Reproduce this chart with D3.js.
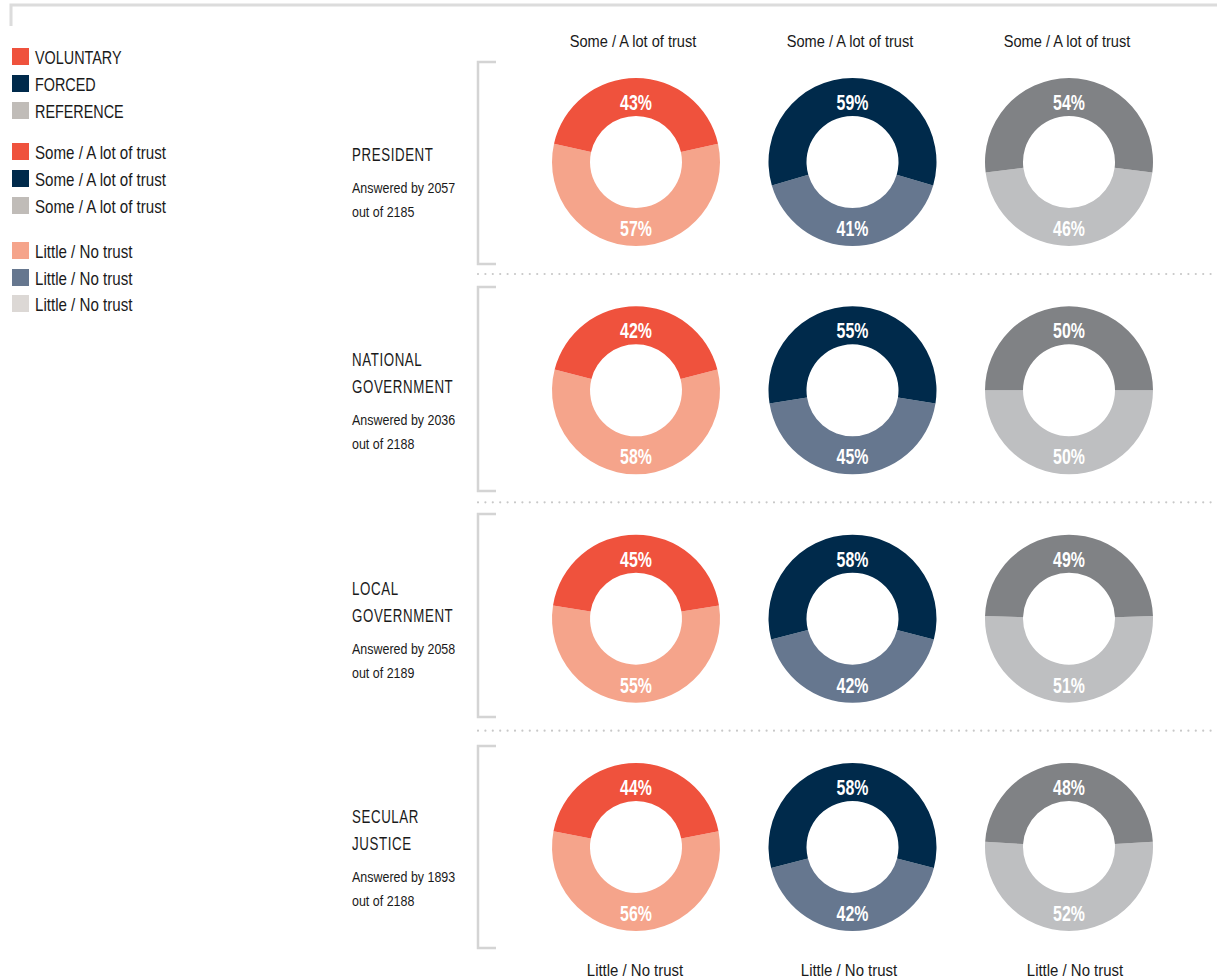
<!DOCTYPE html>
<html>
<head>
<meta charset="utf-8">
<script src="https://cdn.jsdelivr.net/npm/d3@7"></script>
<style>
  body { margin: 0; background: #fff; }
  text { font-family: "Liberation Sans", "Roboto", sans-serif; }
</style>
</head>
<body>
<div id="chart"></div>
<script>
// institutions (rows)
var institutions = [["PRESIDENT"], ["NATIONAL", "GOVERNMENT"], ["LOCAL", "GOVERNMENT"], ["SECULAR", "JUSTICE"]];
var answered = [2057, 2036, 2058, 1893];
var outOf = [2185, 2188, 2189, 2188];

// groups (columns)
var groups = ["VOLUNTARY", "FORCED", "REFERENCE"];

// % some / a lot of trust, per row, per group
var trustVoluntary = [43, 42, 45, 44];
var trustForced = [59, 55, 58, 58];
var trustReference = [54, 50, 49, 48];

// % little / no trust
var littleVoluntary = [57, 58, 55, 56];
var littleForced = [41, 45, 42, 42];
var littleReference = [46, 50, 51, 52];

var topLabel = "Some / A lot of trust";
var bottomLabel = "Little / No trust";

var trust = [trustVoluntary, trustForced, trustReference];
var little = [littleVoluntary, littleForced, littleReference];

var darkColor = d3.scaleOrdinal().domain(groups).range(["#ef523d", "#002a4b", "#808285"]);
var lightColor = d3.scaleOrdinal().domain(groups).range(["#f5a48b", "#66778f", "#bebfc1"]);
var legendDark = d3.scaleOrdinal().domain(groups).range(["#ef523d", "#002a4b", "#c0bcb8"]);
var legendLight = d3.scaleOrdinal().domain(groups).range(["#f5a48b", "#66778f", "#dcd8d5"]);

var width = 1217, height = 979;
var svg = d3.select("#chart").append("svg")
    .attr("width", width)
    .attr("height", height);

// condensed-looking text: squeeze horizontally around the anchor point
function addText(parent, x, y, str, size, sx, anchor) {
    return parent.append("g")
        .attr("transform", "translate(" + x + "," + y + ") scale(" + sx + ",1)")
        .append("text")
        .attr("text-anchor", anchor || "start")
        .attr("font-size", size)
        .attr("fill", "#1a1a1a")
        .text(str);
}

// top frame
svg.append("path")
    .attr("d", "M11,26V5H1217")
    .attr("fill", "none")
    .attr("stroke", "#dcdcdc")
    .attr("stroke-width", 3);

// legend
var legendItems = [];
groups.forEach(function(g){ legendItems.push({label: g, color: legendDark(g)}); });
groups.forEach(function(g){ legendItems.push({label: topLabel, color: legendDark(g)}); });
groups.forEach(function(g){ legendItems.push({label: bottomLabel, color: legendLight(g)}); });
var legendY = [57, 84, 111, 152, 179, 206, 251, 278, 304];

var legend = svg.append("g").attr("id", "legend");
legend.selectAll("rect")
    .data(legendItems)
    .enter()
    .append("rect")
    .attr("x", 12)
    .attr("y", function(d, i){ return legendY[i] - 9; })
    .attr("width", 17)
    .attr("height", 17)
    .attr("fill", function(d){ return d.color; });
legendItems.forEach(function(d, i){
    addText(legend, 35, legendY[i] + 7, d.label, 18, i < 3 ? 0.8 : 0.84);
});

// layout scales
var xScale = d3.scalePoint().domain(groups).range([636, 1069]);
var yScale = d3.scaleLinear().domain([0, 3]).range([162, 847]);
var angle = d3.scaleLinear().domain([0, 100]).range([0, 2 * Math.PI]);
var rOuter = 84, rInner = 46;
var arc = d3.arc().innerRadius(rInner).outerRadius(rOuter);

// column headers / footers
var colHead = [633, 850, 1067];
var colFoot = [635, 849, 1075];
groups.forEach(function(g, i){
    addText(svg, colHead[i], 47, topLabel, 17, 0.86, "middle");
    addText(svg, colFoot[i], 976, bottomLabel, 17, 0.88, "middle");
});

// bracket extents per row
var bracketTop = [62, 287, 514, 746];
var bracketBot = [264, 491, 717, 948];

// rows
institutions.forEach(function(lines, r){
    var cy = yScale(r);
    var g = svg.append("g").attr("class", "row");

    // bracket
    g.append("path")
        .attr("d", "M496," + bracketTop[r] + "H478V" + bracketBot[r] + "H496")
        .attr("fill", "none")
        .attr("stroke", "#d4d4d4")
        .attr("stroke-width", 2.5);

    // dotted separator
    if (r < institutions.length - 1) {
        g.append("line")
            .attr("x1", 478).attr("x2", 1217)
            .attr("y1", cy + 112).attr("y2", cy + 112)
            .attr("stroke", "#c8c8c8")
            .attr("stroke-width", 2.2)
            .attr("stroke-linecap", "round")
            .attr("stroke-dasharray", "0,7.4");
    }

    // label
    var labelTop = lines.length === 1 ? cy - 1 : cy - 24;
    lines.forEach(function(line, k){
        addText(g, 352, labelTop + k * 27, line, 18, 0.74)
            .attr("letter-spacing", 0.8);
    });
    var subTop = labelTop + (lines.length - 1) * 27 + 32;
    addText(g, 352, subTop, "Answered by " + answered[r], 14.5, 0.86);
    addText(g, 352, subTop + 24, "out of " + outOf[r], 14.5, 0.86);

    // donuts
    groups.forEach(function(grp, c){
        var t = trust[c][r], l = little[c][r];
        var a = angle(t);
        var dg = g.append("g")
            .attr("transform", "translate(" + xScale(grp) + "," + cy + ")");
        dg.append("path")
            .attr("d", arc({startAngle: a / 2, endAngle: 2 * Math.PI - a / 2}))
            .attr("fill", lightColor(grp));
        dg.append("path")
            .attr("d", arc({startAngle: -a / 2, endAngle: a / 2}))
            .attr("fill", darkColor(grp));
        addText(dg, 0, -52, t + "%", 21.5, 0.74, "middle")
            .attr("font-weight", "bold").attr("fill", "#fff");
        addText(dg, 0, 74, l + "%", 21.5, 0.74, "middle")
            .attr("font-weight", "bold").attr("fill", "#fff");
    });
});
</script>
</body>
</html>
